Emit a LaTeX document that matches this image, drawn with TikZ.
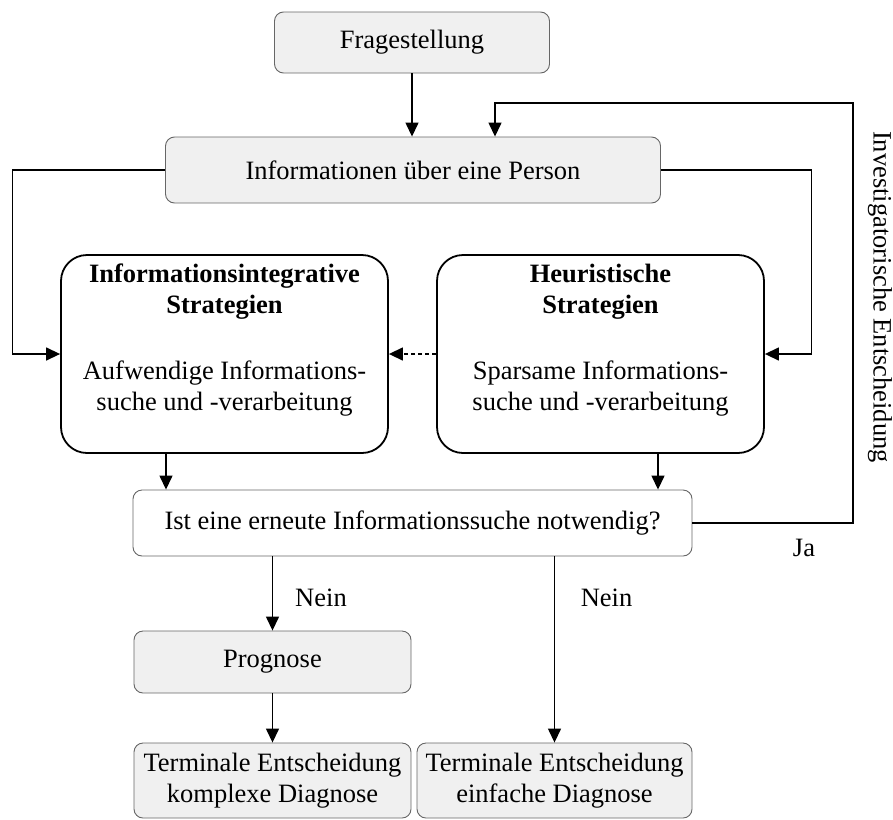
\documentclass[tikz,border=0pt]{standalone}
\usepackage{fontspec}
\setmainfont{Liberation Serif}
\usetikzlibrary{arrows.meta}
\begin{document}
\begin{tikzpicture}[x=1pt,y=-1pt,
  every node/.style={font=\fontsize{26.5}{31}\selectfont, inner sep=0pt},
  graybox/.style={draw=black!60, line width=0.9pt, fill=black!6, rounded corners=9pt},
  whitebox/.style={draw=black!60, line width=0.9pt, fill=white, rounded corners=9pt},
  stratbox/.style={draw=black, line width=1.8pt, fill=white, rounded corners=26pt},
  arr/.style={line width=1.4pt, -{Triangle[length=14pt,width=13pt]}},
  conn/.style={line width=1.4pt}]
\useasboundingbox (0,0) rectangle (893,819);

% boxes
\node[graybox, minimum width=275pt, minimum height=61pt] (frage) at (412,42.5) {Fragestellung};
\node[graybox, minimum width=495pt, minimum height=66pt] (info) at (413,170) {Informationen über eine Person};
\node[stratbox, minimum width=327pt, minimum height=198pt] (integ) at (224.5,354) {};
\node[stratbox, minimum width=327pt, minimum height=198pt] (heur) at (600.5,354) {};
\node[whitebox, minimum width=559pt, minimum height=66pt] (ask) at (412.5,523) {Ist eine erneute Informationssuche notwendig?};
\node[graybox, minimum width=277pt, minimum height=62pt] (prog) at (272.5,662) {Prognose};
\node[graybox, minimum width=277pt, minimum height=75pt, align=center] (terml) at (272.5,780.5)
  {Terminale Entscheidung\\komplexe Diagnose};
\node[graybox, minimum width=275pt, minimum height=75pt, align=center] (termr) at (554.5,780.5)
  {Terminale Entscheidung\\einfache Diagnose};

% texts inside the strategy boxes
\node[align=center] (integhead) at (224.5,292) {\textbf{Informationsintegrative}\\\textbf{Strategien}};
\node[align=center] (integbody) at (224.5,389) {Aufwendige Informations-\\suche und -verarbeitung};
\node[align=center] (heurhead) at (600.5,292) {\textbf{Heuristische}\\\textbf{Strategien}};
\node[align=center] (heurbody) at (600.5,389) {Sparsame Informations-\\suche und -verarbeitung};

% labels
\node (ja) at (804,548) {Ja};
\node (neinl) at (321,598) {Nein};
\node (neinr) at (606.5,598) {Nein};
\node[rotate=-90] (invest) at (880,297) {Investigatorische Entscheidung};

% routing points
\coordinate (leftC) at (12.5,354);
\coordinate (rightC) at (811.5,354);
\coordinate (loopC) at (853,103);
\coordinate (loopIn) at (495,0);
\coordinate (dl) at (166,0);
\coordinate (dr) at (658,0);

% connectors
\draw[arr] (frage.south) -- (frage.south |- info.north);
\draw[arr] (ask.east) -| (loopC) -| (info.north -| loopIn);
\draw[arr] (info.west) -| (leftC) -- (integ.west);
\draw[arr] (info.east) -| (rightC) -- (heur.east);
\draw[arr, dashed, dash pattern=on 4pt off 3pt] (heur.west) -- (integ.east);
\draw[arr] (integ.south -| dl) -- (ask.north -| dl);
\draw[arr] (heur.south -| dr) -- (ask.north -| dr);
\draw[arr] (ask.south -| prog.north) -- (prog.north);
\draw[arr] (prog.south) -- (terml.north);
\draw[arr] (ask.south -| termr.north) -- (termr.north);
\end{tikzpicture}
\end{document}
